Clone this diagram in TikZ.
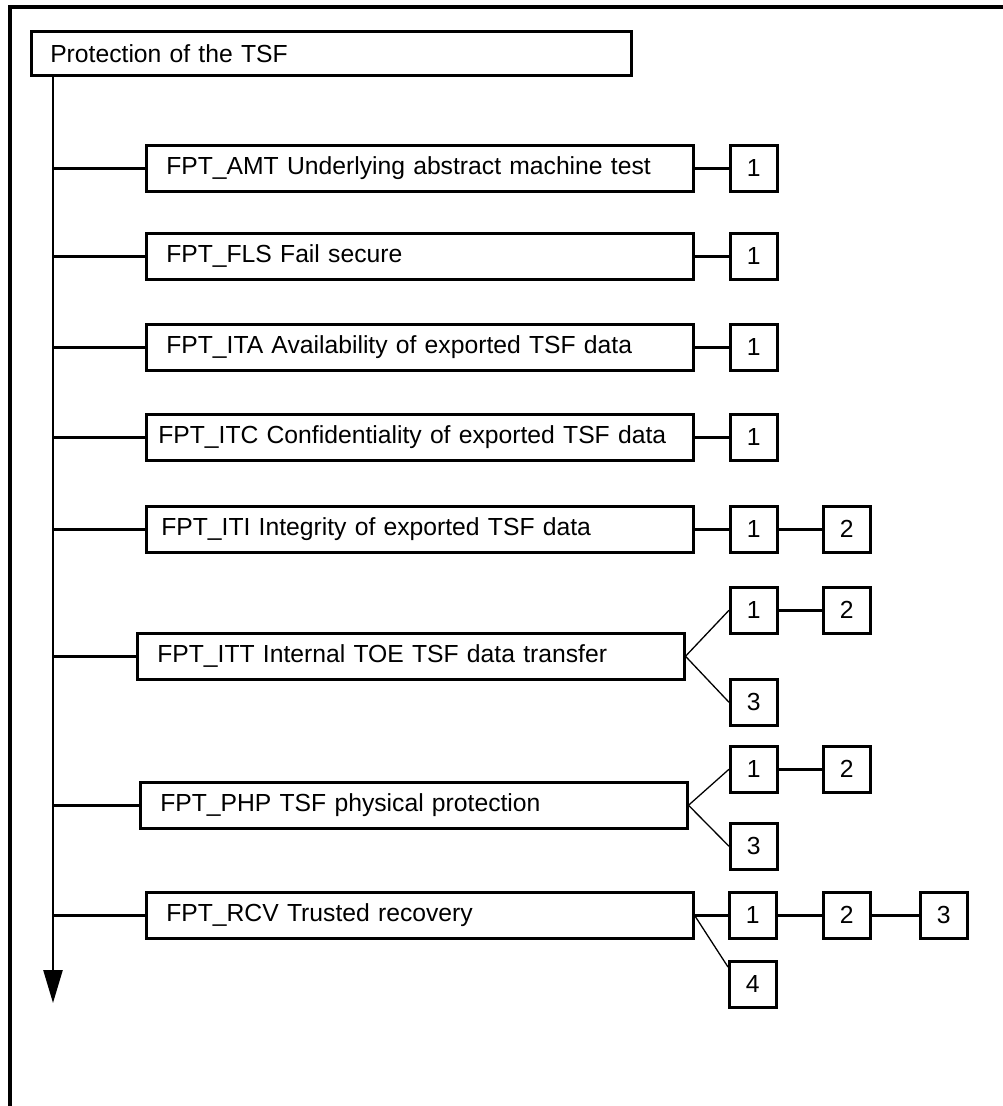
\documentclass[tikz,border=0pt]{standalone}
\usepackage{fontspec}
\setmainfont{Liberation Sans}
\usetikzlibrary{arrows.meta,calc}
\begin{document}
\begin{tikzpicture}[x=1pt,y=-1pt,
  txt/.style={font=\fontsize{24.7}{29}\selectfont},
  fbox/.style={draw, line width=2.5pt, txt, anchor=north west, inner xsep=20pt, inner ysep=0pt,
     text width=507pt, minimum height=46pt, align=left},
  nbox/.style={draw, line width=2.5pt, txt, anchor=north west, inner sep=0pt,
     minimum width=47pt, minimum height=46pt},
  conn/.style={line width=2.5pt},
  diag/.style={line width=1.3pt},
  frame/.style={line width=4pt}]
\useasboundingbox (0,0) rectangle (1002,1106);
\draw[frame] (10,1110) -- (10,7) -- (1006,7);

% title
\node[fbox, text width=562pt, inner xsep=19pt, minimum height=44pt] (root) at (30,30) {Protection of the TSF};
\coordinate (ttop) at ($(root.south west)+(23,0)$);
\coordinate (tend) at (53,1003);
\draw[conn, -{Triangle[length=33pt,width=19pt]}] (ttop) -- (tend);

% families
\node[fbox] (amt) at (145,144) {FPT\_AMT Underlying abstract machine test};
\node[fbox] (fls) at (145,232) {FPT\_FLS Fail secure};
\node[fbox] (ita) at (145,323) {FPT\_ITA Availability of exported TSF data};
\node[fbox, inner xsep=12pt, text width=523pt] (itc) at (145,413) {FPT\_ITC Confidentiality of exported TSF data};
\node[fbox, inner xsep=15pt, text width=517pt] (iti) at (145,505) {FPT\_ITI Integrity of exported TSF data};
\node[fbox] (itt) at (136,632) {FPT\_ITT Internal TOE TSF data transfer};
\node[fbox] (php) at (139,781) {FPT\_PHP TSF physical protection};
\node[fbox] (rcv) at (145,891) {FPT\_RCV Trusted recovery};

\foreach \n in {amt,fls,ita,itc,iti,itt,php,rcv}
  \draw[conn] (\n.west -| ttop) -- (\n.west);

% components
\node[nbox] (amt1) at (729,144) {1};
\node[nbox] (fls1) at (729,232) {1};
\node[nbox] (ita1) at (729,323) {1};
\node[nbox] (itc1) at (729,413) {1};
\node[nbox] (iti1) at (729,505) {1};
\node[nbox] (iti2) at (822,505) {2};
\node[nbox] (itt1) at (729,586) {1};
\node[nbox] (itt2) at (822,586) {2};
\node[nbox] (itt3) at (729,678) {3};
\node[nbox] (php1) at (729,745) {1};
\node[nbox] (php2) at (822,745) {2};
\node[nbox] (php3) at (729,822) {3};
\node[nbox] (rcv1) at (728,891) {1};
\node[nbox] (rcv2) at (822,891) {2};
\node[nbox] (rcv3) at (919,891) {3};
\node[nbox] (rcv4) at (728,960) {4};

\draw[conn] (amt.east) -- (amt1.west);
\draw[conn] (fls.east) -- (fls1.west);
\draw[conn] (ita.east) -- (ita1.west);
\draw[conn] (itc.east) -- (itc1.west);
\draw[conn] (iti.east) -- (iti1.west);
\draw[conn] (iti1.east) -- (iti2.west);
\draw[diag] (itt.east) -- (itt1.west);
\draw[diag] (itt.east) -- (itt3.west);
\draw[conn] (itt1.east) -- (itt2.west);
\draw[diag] (php.east) -- (php1.west);
\draw[diag] (php.east) -- (php3.west);
\draw[conn] (php1.east) -- (php2.west);
\draw[conn] (rcv.east) -- (rcv1.west);
\draw[conn] (rcv1.east) -- (rcv2.west);
\draw[conn] (rcv2.east) -- (rcv3.west);
\draw[diag] (rcv.east) -- ($(rcv4.north west)+(0,7)$);
\end{tikzpicture}
\end{document}
